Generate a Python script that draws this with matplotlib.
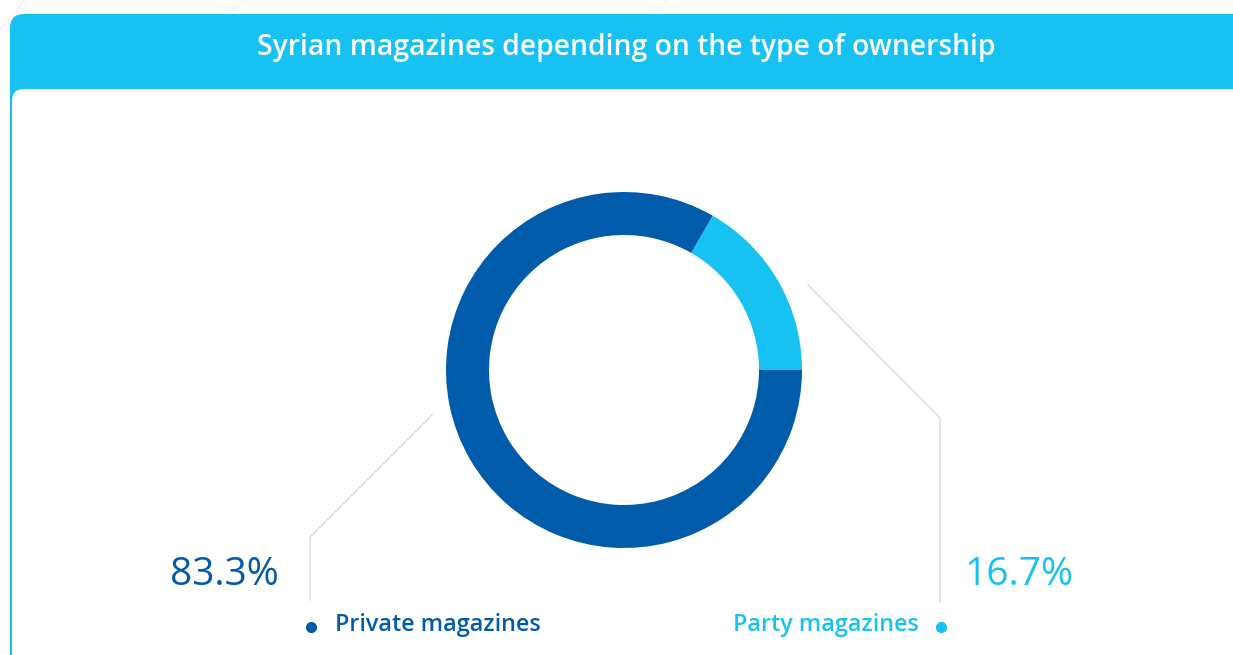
import matplotlib
matplotlib.use("Agg")
import matplotlib.pyplot as plt
from matplotlib.patches import FancyBboxPatch

# Data
categories = ["Party magazines", "Private magazines"]
shares = [16.7, 83.3]
value_labels = ["16.7%", "83.3%"]
title = "Syrian magazines depending on the type of ownership"

DARK = "#005BAA"
LIGHT = "#17C2F3"
GREY = "#DADADA"

W, H = 1233, 655
fig = plt.figure(figsize=(W / 100, H / 100), dpi=100)
ax = fig.add_axes([0, 0, 1, 1])
ax.set_xlim(0, W)
ax.set_ylim(0, H)
ax.axis("off")


def Y(y):
    return H - y


# faint decorative strokes behind the card
for (x0, y0, x1, y1) in [(0, 30, 25, 0), (228, 12, 245, 0), (655, 12, 668, 0)]:
    ax.plot([x0, x1], [Y(y0), Y(y1)], color="#F2F2F2", lw=1, zorder=0)

# card: blue header and white body
header = FancyBboxPatch((10, Y(700)), 1240, 686,
                        boxstyle="round,pad=0,rounding_size=14",
                        fc=LIGHT, ec="none", zorder=1)
ax.add_patch(header)
body = FancyBboxPatch((12, Y(720)), 1240, 720 - 89,
                      boxstyle="round,pad=0,rounding_size=12",
                      fc="white", ec="none", zorder=2)
ax.add_patch(body)

ax.text(626, Y(48), title, color="white", fontsize=20.3, fontweight="semibold",
        family="Open Sans", ha="center", va="center", zorder=5)

# donut
ax.pie(shares, colors=[LIGHT, DARK], startangle=0, counterclock=True,
       center=(624, Y(370)), radius=178,
       wedgeprops=dict(width=43, edgecolor="none"), frame=True)
ax.set_xlim(0, W)
ax.set_ylim(0, H)
ax.axis("off")
for p in ax.patches[2:]:
    p.set_zorder(4)

# leader lines
ax.plot([432, 310, 310], [Y(415), Y(537), Y(600)], color=GREY, lw=1, zorder=3)
ax.plot([808, 940, 940], [Y(285), Y(418), Y(602)], color=GREY, lw=1, zorder=3)

# value labels
ax.text(279, Y(575), value_labels[1], color=DARK, fontsize=28, family="Open Sans",
        ha="right", va="center", zorder=5)
ax.text(964, Y(575), value_labels[0], color=LIGHT, fontsize=28, family="Open Sans",
        ha="left", va="center", zorder=5)

# category labels with bullets
ax.plot([311], [Y(627)], "o", ms=7, color=DARK, zorder=5)
ax.text(335, Y(625), categories[1], color=DARK, fontsize=16.8, fontweight="semibold",
        family="Open Sans", ha="left", va="center", zorder=5)
ax.plot([941], [Y(627)], "o", ms=7, color=LIGHT, zorder=5)
ax.text(919, Y(625), categories[0], color=LIGHT, fontsize=16.8, fontweight="semibold",
        family="Open Sans", ha="right", va="center", zorder=5)

fig.savefig("out.png", dpi=100)
